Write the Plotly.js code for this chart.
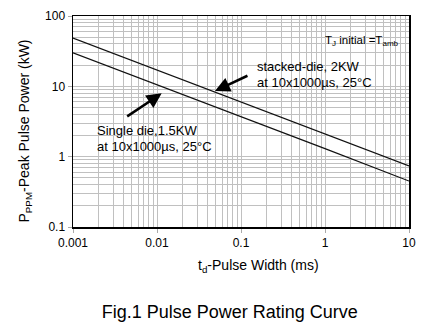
<!DOCTYPE html>
<html>
<head>
<meta charset="utf-8">
<script src="https://cdn.plot.ly/plotly-3.0.1.min.js"></script>
<style>html,body{margin:0;padding:0;background:#fff}#chart{width:432px;height:332px}</style>
</head>
<body>
<div id="chart"></div>
<script>
// Data
const pulseWidthMs = [0.001, 0.01, 0.1, 1, 10];
const stackedDieKW = [48.6, 17.1, 6.0, 2.1, 0.74];
const singleDieKW = [30, 10.6, 3.7, 1.3, 0.45];
const xTickVals = [0.001, 0.01, 0.1, 1, 10];
const xTickText = ['0.001', '0.01', '0.1', '1', '10'];
const yTickVals = [0.1, 1, 10, 100];
const yTickText = ['0.1', '1', '10', '100'];

const FONT = 'Liberation Sans, Arial, sans-serif';
const GRID = '#c0c0c0';

const traces = [
  {x: pulseWidthMs, y: stackedDieKW, mode: 'lines', name: 'stacked-die, 2KW',
   line: {color: '#111', width: 1.2}},
  {x: pulseWidthMs, y: singleDieKW, mode: 'lines', name: 'Single die,1.5KW',
   line: {color: '#111', width: 1.2}}
];

const axisCommon = {
  type: 'log', showline: true, linecolor: '#000', linewidth: 1.5, mirror: true,
  ticks: 'outside', ticklen: 4, tickcolor: '#aaa', tickwidth: 1,
  showgrid: true, gridcolor: GRID, gridwidth: 1, zeroline: false,
  tickfont: {family: FONT, size: 12, color: '#000'},
  minor: {dtick: 'D1', showgrid: true, gridcolor: GRID, gridwidth: 1, ticks: ''}
};

const lineText = (x, y, text) => ({xref: 'paper', yref: 'paper', x: x, y: y, text: text, showarrow: false,
  xanchor: 'left', yanchor: 'middle', font: {family: FONT, size: 13, color: '#000'}});

const layout = {
  width: 432, height: 332,
  margin: {l: 73, r: 23, t: 16, b: 105},
  paper_bgcolor: '#fff', plot_bgcolor: '#fff',
  showlegend: false,
  font: {family: FONT, color: '#000'},
  title: {text: 'Fig.1 Pulse Power Rating Curve', font: {family: FONT, size: 18, color: '#000'},
          x: 0.532, xanchor: 'center', y: 0.06, yanchor: 'middle', yref: 'container'},
  xaxis: Object.assign({}, axisCommon, {range: [-3, 1], tickmode: 'array', tickvals: xTickVals, ticktext: xTickText}),
  yaxis: Object.assign({}, axisCommon, {range: [-1, 2], tickmode: 'array', tickvals: yTickVals, ticktext: yTickText}),
  shapes: [
    {type: 'rect', xref: 'paper', yref: 'paper', x0: 0.524, x1: 0.917, y0: 0.649, y1: 0.796,
     fillcolor: '#fff', line: {width: 0}, layer: 'between'},
    {type: 'rect', xref: 'paper', yref: 'paper', x0: 0.048, x1: 0.429, y0: 0.346, y1: 0.498,
     fillcolor: '#fff', line: {width: 0}, layer: 'between'},
    {type: 'rect', xref: 'paper', yref: 'paper', x0: 0.741, x1: 0.988, y0: 0.829, y1: 0.934,
     fillcolor: '#fff', line: {width: 0}, layer: 'between'}
  ],
  annotations: [
    {xref: 'paper', yref: 'paper', x: -0.143, y: 0.457, text: 'P<sub>PPM</sub>-Peak Pulse Power (kW)',
     textangle: -90, showarrow: false, font: {family: FONT, size: 14, color: '#000'}, xanchor: 'center', yanchor: 'middle'},
    {xref: 'paper', yref: 'paper', x: 0.551, y: -0.185, text: 't<sub>d</sub>-Pulse Width (ms)',
     showarrow: false, font: {family: FONT, size: 14, color: '#000'}, xanchor: 'center', yanchor: 'middle'},
    lineText(0.542, 0.760, 'stacked-die, 2KW'),
    lineText(0.542, 0.683, 'at 10x1000µs, 25°C'),
    lineText(0.065, 0.456, 'Single die,1.5KW'),
    lineText(0.065, 0.382, 'at 10x1000µs, 25°C'),
    {xref: 'paper', yref: 'paper', x: 0.860, y: 0.882, text: 'T<sub>J</sub> initial =T<sub>amb</sub>', showarrow: false,
     xanchor: 'center', yanchor: 'middle', font: {family: FONT, size: 11.5, color: '#000'}},
    {xref: 'x', yref: 'y', x: -1.31, y: 0.933, text: '', showarrow: true, arrowhead: 2, arrowsize: 1.2,
     arrowwidth: 2.5, arrowcolor: '#000', ax: 34, ay: -16, standoff: 0},
    {xref: 'x', yref: 'y', x: -1.944, y: 0.900, text: '', showarrow: true, arrowhead: 2, arrowsize: 1.2,
     arrowwidth: 2.5, arrowcolor: '#000', ax: -36, ay: 24, standoff: 0}
  ]
};

Plotly.newPlot('chart', traces, layout, {displayModeBar: false, staticPlot: true});
</script>
</body>
</html>
